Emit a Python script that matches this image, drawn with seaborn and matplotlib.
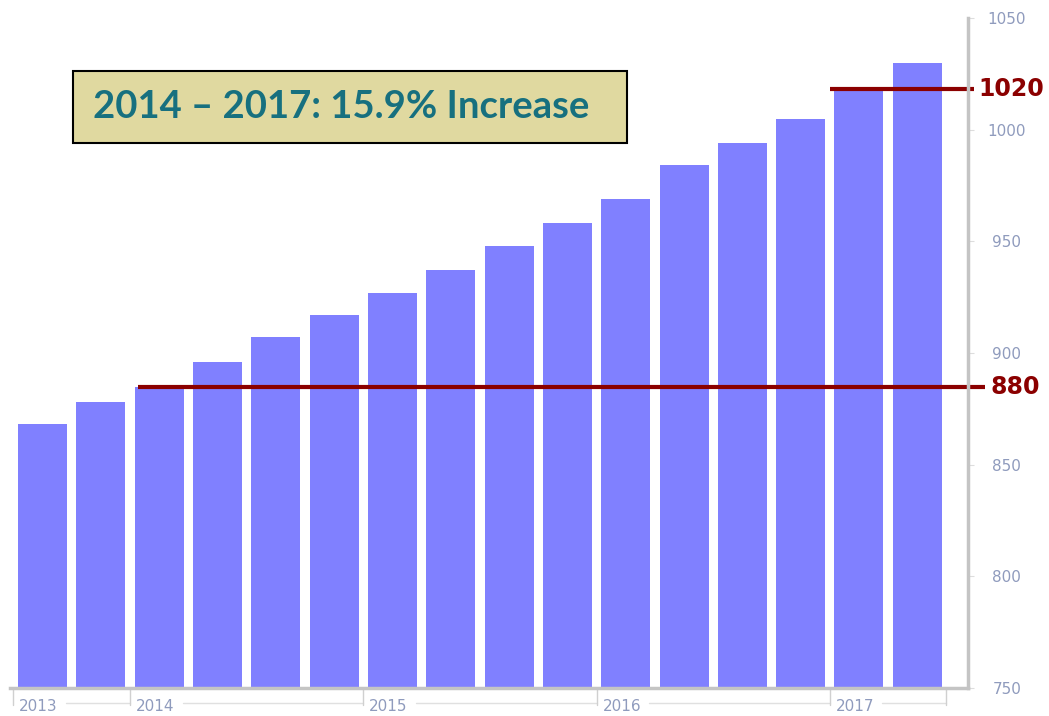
"""Quarterly bar chart with a right-hand value axis and a highlighted increase."""

import matplotlib
matplotlib.use("Agg")
import matplotlib.pyplot as plt
from matplotlib.patches import Rectangle
import seaborn as sns

# data
quarters = ["2013Q3", "2013Q4",
            "2014Q1", "2014Q2", "2014Q3", "2014Q4",
            "2015Q1", "2015Q2", "2015Q3", "2015Q4",
            "2016Q1", "2016Q2", "2016Q3", "2016Q4",
            "2017Q1", "2017Q2"]
values = [868, 878, 885, 896, 907, 917, 927, 937,
          948, 958, 969, 984, 994, 1005, 1018, 1030]
years = ["2013", "2014", "2015", "2016", "2017"]
quarters_per_year = [2, 4, 4, 4, 2]
y_ticks = [750, 800, 850, 900, 950, 1000, 1050]
low_label = "880"
high_label = "1020"
headline = "2014 \u2013 2017: 15.9% Increase"

BAR = "#8080ff"
AXIS = "#c4c4c4"
TICK_TXT = "#8f9bbd"
DARKRED = "#8b0000"
TEAL = "#17707f"

sns.set_style("white")
plt.rcParams["font.family"] = ["DejaVu Sans"]

fig = plt.figure(figsize=(10.49, 7.16), dpi=100)
W, H = 1049, 716
ax = fig.add_axes([10 / W, (H - 688) / H, (968 - 10) / W, (688 - 18) / H])

sns.barplot(x=quarters, y=values, color=BAR, saturation=1, width=0.84,
            edgecolor="none", ax=ax)
ax.set_ylim(750, 1050)
ax.set_xlim(-0.56, 15.87)
ax.set_xlabel("")
ax.set_ylabel("")
ax.set_xticks([])

# right axis
for s in ["left", "top"]:
    ax.spines[s].set_visible(False)
for s in ["right", "bottom"]:
    ax.spines[s].set_color(AXIS)
    ax.spines[s].set_linewidth(2.5)
ax.yaxis.tick_right()
ax.set_yticks(y_ticks)
ax.set_yticklabels([str(t) for t in y_ticks])
ax.tick_params(axis="y", length=4, color="#dddddd", pad=24,
               labelsize=11, labelcolor=TICK_TXT)
for lab in ax.get_yticklabels():
    lab.set_horizontalalignment("center")

# year brackets under the bars
xform = ax.get_xaxis_transform()
start = -0.5
for yr, n in zip(years, quarters_per_year):
    end = start + n
    ax.plot([start, start], [0, -0.026], transform=xform, color="#d0d0d0",
            lw=1, clip_on=False)
    ax.text(start + 0.1, -0.027, yr, transform=xform, ha="left",
            va="center", fontsize=11, color=TICK_TXT)
    ax.plot([start + 0.9, end], [-0.023, -0.023],
            transform=xform, color="#e0e0e0", lw=1, clip_on=False)
    start = end
ax.plot([start, start], [0, -0.026], transform=xform, color="#d0d0d0",
        lw=1, clip_on=False)

# reference lines at 2014Q1 and 2017Q1
ax.plot([1.64, 16.17], [values[2], values[2]], color=DARKRED, lw=3,
        clip_on=False, solid_capstyle="butt")
ax.text(16.25, values[2], low_label, color=DARKRED, fontsize=17,
        fontweight="bold", ha="left", va="center")
ax.plot([13.5, 15.98], [values[14], values[14]], color=DARKRED, lw=3,
        clip_on=False, solid_capstyle="butt")
ax.text(16.05, values[14], high_label, color=DARKRED, fontsize=17,
        fontweight="bold", ha="left", va="center")

# headline box
fig.patches.append(Rectangle((73 / W, 1 - 143 / H), (627 - 73) / W,
                             (143 - 71) / H, transform=fig.transFigure,
                             facecolor="#e0d9a0", edgecolor="black", lw=1.5))
fig.text(341 / W, 1 - 107 / H, headline, ha="center", va="center",
         fontsize=27.5, fontweight="bold", color=TEAL, family=["Lato", "DejaVu Sans"])

fig.savefig("out.png", dpi=100)
